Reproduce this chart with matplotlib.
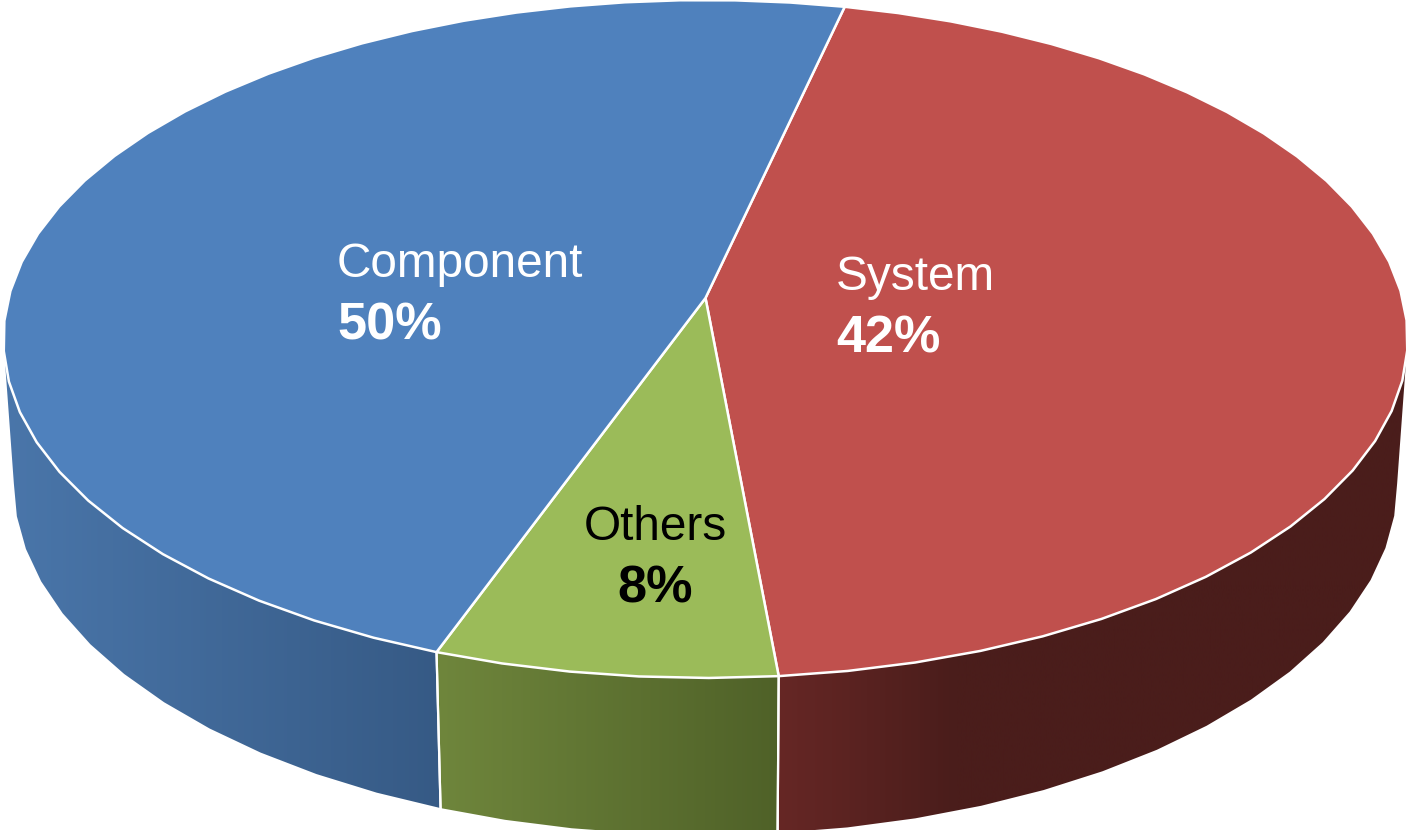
import numpy as np
import matplotlib
matplotlib.use('Agg')
import matplotlib.pyplot as plt
from matplotlib.path import Path
from matplotlib.patches import PathPatch
from matplotlib.colors import LinearSegmentedColormap

plt.rcParams['font.family'] = ['Liberation Sans', 'DejaVu Sans']

# slices clockwise, sweep (printed labels are rounded differently)
categories = ['System', 'Others', 'Component']
percent_labels = ['42%', '8%', '50%']
sweep_deg = [161.8, 25.3, 172.9]
start_deg = 12.9

top_colors = ['#C0504D', '#9BBB59', '#4F81BD']
side_left = ['#662725', '#6F863C', '#4A76AA']
side_right = ['#4A1D1B', '#4F6128', '#365A85']
text_colors = ['white', 'black', 'white']

# label anchor in pixels
label_pos = [(836, 277), (655, 527), (337, 264)]
label_ha = ['left', 'center', 'left']

# perspective of the disc
cx, cy = 705.5, 298
A, B, k = 697, 334, 0.121


def project(deg):
    t = np.radians(deg)
    X, Y = np.sin(t), -np.cos(t)
    d = 1 - k * Y
    return cx + A * X / d, cy + B * Y / d


def drop(x, y):
    # same rim seen on the bottom of the disc
    return cx + (x - cx) * 0.985, 1.036 * y + 132.5


def rim_angles(a0, a1):
    # the rim in the source is faceted, about 5 degrees a piece
    n = max(int((a1 - a0) / 5), 2) + 1
    return np.linspace(a0, a1, n)


fig = plt.figure(figsize=(14.08, 8.30), dpi=100)
ax = fig.add_axes([0, 0, 1, 1])
ax.set_xlim(0, 1408)
ax.set_ylim(830, 0)
ax.axis('off')

edges = start_deg + np.concatenate([[0], np.cumsum(sweep_deg)])

# widest points of the rim, the wall is only seen between them
wide_r = 180 - np.degrees(np.arccos(k))
wide_l = 360 - wide_r

for i in range(3):
    a0, a1 = edges[i], edges[i + 1]
    a0v, a1v = max(a0, wide_r), min(a1, wide_l)
    th = rim_angles(a0v, a1v)
    x, y = project(th)
    xb, yb = drop(x, y)
    px = np.concatenate([x, xb[::-1]])
    py = np.concatenate([y, yb[::-1]])
    patch = PathPatch(Path(np.column_stack([px, py])), fc='none', ec='none')
    ax.add_patch(patch)
    xmin, xmax = px.min(), px.max()
    # colours run left to right, red flattens out early
    if i == 0:
        stops = [(0, side_left[i]), (0.28, side_right[i]), (1, side_right[i])]
    else:
        stops = [(0, side_left[i]), (1, side_right[i])]
    cmap = LinearSegmentedColormap.from_list('side%d' % i, stops)
    im = ax.imshow(np.linspace(0, 1, 256).reshape(1, -1), cmap=cmap, aspect='auto',
                   extent=[xmin, xmax, py.max(), py.min()], zorder=1)
    im.set_clip_path(patch)
    # split between walls, not on the outer silhouette
    if a0 >= wide_r:
        ax.plot([x[0], xb[0]], [y[0], yb[0]], color='white', lw=1.6, zorder=2)
    if a1 <= wide_l:
        ax.plot([x[-1], xb[-1]], [y[-1], yb[-1]], color='white', lw=1.6, zorder=2)

ax.set_xlim(0, 1408)
ax.set_ylim(830, 0)

# top face
for i in range(3):
    th = rim_angles(edges[i], edges[i + 1])
    x, y = project(th)
    ax.fill(np.r_[cx, x], np.r_[cy, y], fc=top_colors[i], ec='white', lw=1.8,
            joinstyle='round', zorder=3)

for i in range(3):
    lx, ly = label_pos[i]
    ax.text(lx, ly, categories[i], color=text_colors[i], fontsize=34.4, ha=label_ha[i],
            va='center', zorder=4)
    ax.text(lx, ly + 62, percent_labels[i], color=text_colors[i], fontsize=37.6,
            fontweight='bold', ha=label_ha[i], va='center', zorder=4)

fig.savefig('out.png', dpi=100)
